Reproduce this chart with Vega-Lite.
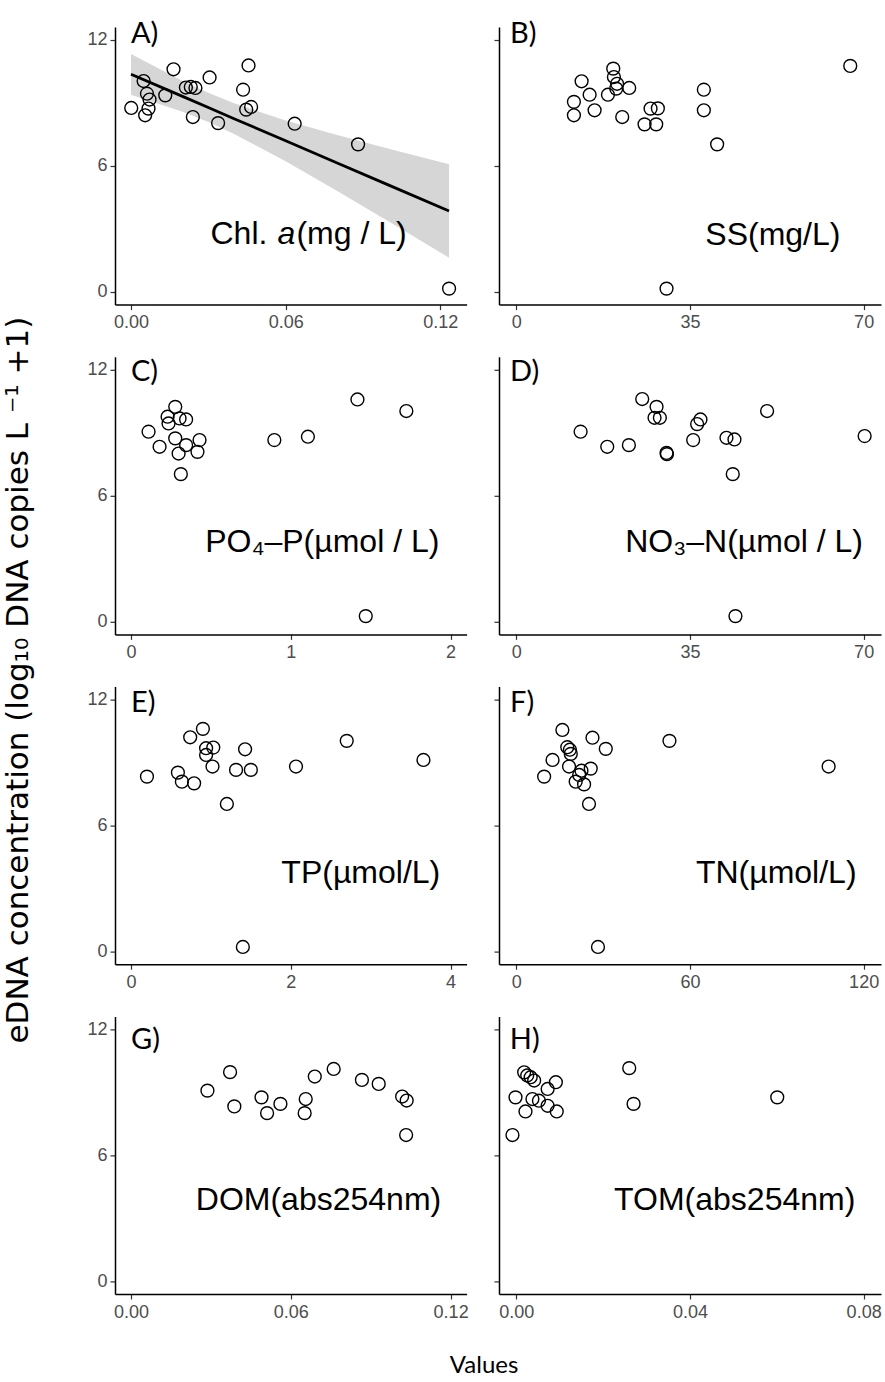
{
  "$schema": "https://vega.github.io/schema/vega-lite/v6.json",
  "background": "white",
  "padding": {"left": 2, "top": 20, "right": 0, "bottom": 0},
  "config": {
    "view": {"stroke": null},
    "font": "Liberation Sans",
    "axis": {"grid": false, "domainColor": "#000000", "domainWidth": 1.5, "tickColor": "#333333", "tickWidth": 1.2, "tickSize": 5, "labelFont": "Liberation Sans", "labelFontSize": 18, "labelColor": "#4D4D4D", "labelPadding": 3, "labelFlush": false, "labelOverlap": false},
    "axisX": {"labelPadding": 4}
  },
  "datasets": {
    "A": [{"x":0.0001,"y":8.75},{"x":0.0049,"y":10.03},{"x":0.0062,"y":9.43},{"x":0.0072,"y":9.15},{"x":0.0068,"y":8.72},{"x":0.0055,"y":8.40},{"x":0.0133,"y":9.35},{"x":0.0165,"y":10.59},{"x":0.0213,"y":9.72},{"x":0.0232,"y":9.75},{"x":0.025,"y":9.70},{"x":0.024,"y":8.32},{"x":0.0305,"y":10.2},{"x":0.0338,"y":8.03},{"x":0.0435,"y":9.62},{"x":0.0456,"y":10.77},{"x":0.0447,"y":8.67},{"x":0.0466,"y":8.8},{"x":0.0635,"y":8.0},{"x":0.0881,"y":7.02},{"x":0.1234,"y":0.16}],
    "fitA": [{"x":0,"fit":10.35,"lo":9.38,"hi":11.32},{"x":0.02,"fit":9.30,"lo":8.57,"hi":10.03},{"x":0.03,"fit":8.77,"lo":8.08,"hi":9.47},{"x":0.04,"fit":8.24,"lo":7.51,"hi":8.97},{"x":0.06,"fit":7.19,"lo":6.22,"hi":8.16},{"x":0.08,"fit":6.13,"lo":4.80,"hi":7.46},{"x":0.1,"fit":5.08,"lo":3.35,"hi":6.81},{"x":0.1234,"fit":3.85,"lo":1.63,"hi":6.07}],
    "B": [{"x":11.6,"y":9.04},{"x":11.6,"y":8.4},{"x":13.15,"y":10.02},{"x":14.77,"y":9.38},{"x":15.77,"y":8.64},{"x":18.46,"y":9.38},{"x":19.53,"y":10.62},{"x":19.66,"y":10.22},{"x":20.3,"y":9.9},{"x":20.13,"y":9.67},{"x":21.34,"y":8.32},{"x":22.75,"y":9.7},{"x":25.84,"y":7.97},{"x":27.05,"y":8.72},{"x":28.19,"y":7.97},{"x":28.52,"y":8.73},{"x":30.27,"y":0.16},{"x":37.79,"y":9.62},{"x":37.79,"y":8.64},{"x":40.47,"y":7.02},{"x":67.3,"y":10.75}],
    "C": [{"x":0.11,"y":9.04},{"x":0.179,"y":8.32},{"x":0.229,"y":9.75},{"x":0.235,"y":9.43},{"x":0.277,"y":10.22},{"x":0.277,"y":8.72},{"x":0.298,"y":8.0},{"x":0.312,"y":7.02},{"x":0.304,"y":9.67},{"x":0.345,"y":9.62},{"x":0.345,"y":8.4},{"x":0.429,"y":8.64},{"x":0.416,"y":8.08},{"x":0.897,"y":8.64},{"x":1.107,"y":8.8},{"x":1.417,"y":10.57},{"x":1.469,"y":0.27},{"x":1.723,"y":10.02}],
    "D": [{"x":12.95,"y":9.04},{"x":18.32,"y":8.32},{"x":22.68,"y":8.4},{"x":25.37,"y":10.59},{"x":28.26,"y":10.22},{"x":27.85,"y":9.7},{"x":28.93,"y":9.7},{"x":30.27,"y":8.03},{"x":30.35,"y":7.97},{"x":35.64,"y":8.64},{"x":36.44,"y":9.4},{"x":37.11,"y":9.62},{"x":42.35,"y":8.75},{"x":43.96,"y":8.67},{"x":43.62,"y":7.02},{"x":44.16,"y":0.27},{"x":50.54,"y":10.02},{"x":70.2,"y":8.83}],
    "E": [{"x":0.2,"y":8.32},{"x":0.587,"y":8.51},{"x":0.637,"y":8.08},{"x":0.79,"y":8.0},{"x":0.741,"y":10.19},{"x":0.9,"y":10.59},{"x":0.94,"y":9.67},{"x":0.94,"y":9.35},{"x":1.03,"y":9.7},{"x":1.02,"y":8.8},{"x":1.2,"y":7.02},{"x":1.315,"y":8.64},{"x":1.428,"y":9.62},{"x":1.5,"y":8.64},{"x":1.4,"y":0.22},{"x":2.065,"y":8.8},{"x":2.7,"y":10.02},{"x":3.66,"y":9.11}],
    "F": [{"x":9.6,"y":8.32},{"x":12.5,"y":9.11},{"x":15.9,"y":10.54},{"x":17.6,"y":9.72},{"x":18.5,"y":9.6},{"x":18.8,"y":9.4},{"x":18.2,"y":8.8},{"x":20.5,"y":8.08},{"x":21.7,"y":8.4},{"x":22.5,"y":8.6},{"x":23.4,"y":7.95},{"x":25.7,"y":8.7},{"x":26.3,"y":10.17},{"x":25.1,"y":7.02},{"x":30.9,"y":9.64},{"x":28.2,"y":0.22},{"x":52.9,"y":10.02},{"x":107.9,"y":8.8}],
    "G": [{"x":0.0287,"y":9.07},{"x":0.0372,"y":9.95},{"x":0.0388,"y":8.32},{"x":0.049,"y":8.75},{"x":0.0511,"y":8.0},{"x":0.0561,"y":8.44},{"x":0.0656,"y":8.67},{"x":0.0652,"y":8.0},{"x":0.069,"y":9.74},{"x":0.0761,"y":10.1},{"x":0.0867,"y":9.58},{"x":0.093,"y":9.39},{"x":0.1018,"y":8.79},{"x":0.1035,"y":8.6},{"x":0.1033,"y":6.96}],
    "H": [{"x":-0.0009,"y":6.96},{"x":-0.0002,"y":8.75},{"x":0.0021,"y":8.08},{"x":0.0018,"y":9.94},{"x":0.0025,"y":9.79},{"x":0.0033,"y":9.71},{"x":0.0041,"y":9.55},{"x":0.0037,"y":8.67},{"x":0.0052,"y":8.59},{"x":0.0072,"y":9.15},{"x":0.0072,"y":8.35},{"x":0.0091,"y":9.47},{"x":0.0093,"y":8.08},{"x":0.026,"y":10.14},{"x":0.027,"y":8.44},{"x":0.0601,"y":8.75}]
  },
  "title": {"text": "eDNA concentration (log₁₀ DNA copies L ⁻¹ +1)", "orient": "left", "anchor": "middle", "font": "DejaVu Sans", "fontSize": 31, "fontWeight": "normal", "color": "black", "offset": 52, "dx": 19},
  "vconcat": [
    {
      "title": {"text": "Values", "orient": "bottom", "anchor": "middle", "font": "Lato", "fontSize": 24, "fontWeight": "normal", "color": "black", "offset": 33},
      "columns": 2,
      "bounds": "flush",
      "spacing": {"row": 51.8, "column": 32},
      "concat": [
        {
          "width": 351.6, "height": 277.6,
          "layer": [
            {"data": {"name": "fitA"}, "mark": {"type": "area", "color": "#D6D6D6"},
             "encoding": {"x": {"field": "x", "type": "quantitative", "title": null, "scale": {"domain": [-0.0062, 0.1302], "nice": false, "zero": false}, "axis": {"values": [0, 0.06, 0.12], "format": ".2f"}},
                          "y": {"field": "lo", "type": "quantitative", "title": null, "scale": {"domain": [-0.6, 12.6], "nice": false, "zero": false}, "axis": {"values": [0, 6, 12]}},
                          "y2": {"field": "hi"}}},
            {"data": {"name": "fitA"}, "mark": {"type": "line", "color": "black", "strokeWidth": 2.8},
             "encoding": {"x": {"field": "x", "type": "quantitative", "title": null}, "y": {"field": "fit", "type": "quantitative", "title": null}}},
            {"data": {"name": "A"}, "mark": {"type": "point", "shape": "circle", "filled": false, "stroke": "black", "strokeWidth": 1.4, "size": 165, "opacity": 1},
             "encoding": {"x": {"field": "x", "type": "quantitative", "title": null}, "y": {"field": "y", "type": "quantitative", "title": null}}},
            {"data": {"values": [{}]}, "mark": {"type": "text", "text": "A)", "font": "Lato", "fontSize": 29, "align": "left", "baseline": "alphabetic", "color": "black"},
             "encoding": {"x": {"datum": 0}, "y": {"datum": 11.83}}},
            {"data": {"values": [{}]}, "mark": {"type": "text", "text": "Chl.", "font": "Liberation Sans", "fontSize": 32, "align": "right", "baseline": "middle", "color": "black", "dx": -10},
             "encoding": {"x": {"datum": 0.0568}, "y": {"datum": 2.78}}},
            {"data": {"values": [{}]}, "mark": {"type": "text", "text": "a", "font": "Liberation Sans", "fontSize": 32, "fontStyle": "italic", "align": "left", "baseline": "middle", "color": "black"},
             "encoding": {"x": {"datum": 0.0568}, "y": {"datum": 2.78}}},
            {"data": {"values": [{}]}, "mark": {"type": "text", "text": "(mg / L)", "font": "Liberation Sans", "fontSize": 32, "align": "left", "baseline": "middle", "color": "black", "dx": 19},
             "encoding": {"x": {"datum": 0.0568}, "y": {"datum": 2.78}}}
          ]
        },
        {
          "width": 382, "height": 277.6,
          "layer": [
            {"data": {"name": "B"}, "mark": {"type": "point", "shape": "circle", "filled": false, "stroke": "black", "strokeWidth": 1.4, "size": 165, "opacity": 1},
             "encoding": {"x": {"field": "x", "type": "quantitative", "title": null, "scale": {"domain": [-3.5, 73.5], "nice": false, "zero": false}, "axis": {"values": [0, 35, 70], "format": "d"}},
                          "y": {"field": "y", "type": "quantitative", "title": null, "scale": {"domain": [-0.6, 12.6], "nice": false, "zero": false}, "axis": {"values": [0, 6, 12], "labels": false}}}},
            {"data": {"values": [{}]}, "mark": {"type": "text", "text": "B)", "font": "Lato", "fontSize": 29, "align": "left", "baseline": "alphabetic", "color": "black"},
             "encoding": {"x": {"datum": -1.29}, "y": {"datum": 11.83}}},
            {"data": {"values": [{}]}, "mark": {"type": "text", "text": "SS(mg/L)", "font": "Liberation Sans", "fontSize": 32, "align": "center", "baseline": "middle", "color": "black"},
             "encoding": {"x": {"datum": 51.7}, "y": {"datum": 2.69}}}
          ]
        },
        {
          "width": 351.6, "height": 277.6,
          "layer": [
            {"data": {"name": "C"}, "mark": {"type": "point", "shape": "circle", "filled": false, "stroke": "black", "strokeWidth": 1.4, "size": 165, "opacity": 1},
             "encoding": {"x": {"field": "x", "type": "quantitative", "title": null, "scale": {"domain": [-0.1, 2.1], "nice": false, "zero": false}, "axis": {"values": [0, 1, 2], "format": "d"}},
                          "y": {"field": "y", "type": "quantitative", "title": null, "scale": {"domain": [-0.6, 12.6], "nice": false, "zero": false}, "axis": {"values": [0, 6, 12]}}}},
            {"data": {"values": [{}]}, "mark": {"type": "text", "text": "C)", "font": "Lato", "fontSize": 29, "align": "left", "baseline": "alphabetic", "color": "black"},
             "encoding": {"x": {"datum": 0}, "y": {"datum": 11.45}}},
            {"data": {"values": [{}]}, "mark": {"type": "text", "text": "PO₄–P(µmol / L)", "font": "Liberation Sans", "fontSize": 32, "align": "center", "baseline": "middle", "color": "black"},
             "encoding": {"x": {"datum": 1.197}, "y": {"datum": 3.8}}}
          ]
        },
        {
          "width": 382, "height": 277.6,
          "layer": [
            {"data": {"name": "D"}, "mark": {"type": "point", "shape": "circle", "filled": false, "stroke": "black", "strokeWidth": 1.4, "size": 165, "opacity": 1},
             "encoding": {"x": {"field": "x", "type": "quantitative", "title": null, "scale": {"domain": [-3.5, 73.5], "nice": false, "zero": false}, "axis": {"values": [0, 35, 70], "format": "d"}},
                          "y": {"field": "y", "type": "quantitative", "title": null, "scale": {"domain": [-0.6, 12.6], "nice": false, "zero": false}, "axis": {"values": [0, 6, 12], "labels": false}}}},
            {"data": {"values": [{}]}, "mark": {"type": "text", "text": "D)", "font": "Lato", "fontSize": 29, "align": "left", "baseline": "alphabetic", "color": "black"},
             "encoding": {"x": {"datum": -1.29}, "y": {"datum": 11.45}}},
            {"data": {"values": [{}]}, "mark": {"type": "text", "text": "NO₃–N(µmol / L)", "font": "Liberation Sans", "fontSize": 32, "align": "center", "baseline": "middle", "color": "black"},
             "encoding": {"x": {"datum": 45.9}, "y": {"datum": 3.8}}}
          ]
        },
        {
          "width": 351.6, "height": 277.6,
          "layer": [
            {"data": {"name": "E"}, "mark": {"type": "point", "shape": "circle", "filled": false, "stroke": "black", "strokeWidth": 1.4, "size": 165, "opacity": 1},
             "encoding": {"x": {"field": "x", "type": "quantitative", "title": null, "scale": {"domain": [-0.2, 4.2], "nice": false, "zero": false}, "axis": {"values": [0, 2, 4], "format": "d"}},
                          "y": {"field": "y", "type": "quantitative", "title": null, "scale": {"domain": [-0.6, 12.6], "nice": false, "zero": false}, "axis": {"values": [0, 6, 12]}}}},
            {"data": {"values": [{}]}, "mark": {"type": "text", "text": "E)", "font": "Lato", "fontSize": 29, "align": "left", "baseline": "alphabetic", "color": "black"},
             "encoding": {"x": {"datum": 0}, "y": {"datum": 11.4}}},
            {"data": {"values": [{}]}, "mark": {"type": "text", "text": "TP(µmol/L)", "font": "Liberation Sans", "fontSize": 32, "align": "center", "baseline": "middle", "color": "black"},
             "encoding": {"x": {"datum": 2.876}, "y": {"datum": 3.74}}}
          ]
        },
        {
          "width": 382, "height": 277.6,
          "layer": [
            {"data": {"name": "F"}, "mark": {"type": "point", "shape": "circle", "filled": false, "stroke": "black", "strokeWidth": 1.4, "size": 165, "opacity": 1},
             "encoding": {"x": {"field": "x", "type": "quantitative", "title": null, "scale": {"domain": [-6, 126], "nice": false, "zero": false}, "axis": {"values": [0, 60, 120], "format": "d"}},
                          "y": {"field": "y", "type": "quantitative", "title": null, "scale": {"domain": [-0.6, 12.6], "nice": false, "zero": false}, "axis": {"values": [0, 6, 12], "labels": false}}}},
            {"data": {"values": [{}]}, "mark": {"type": "text", "text": "F)", "font": "Lato", "fontSize": 29, "align": "left", "baseline": "alphabetic", "color": "black"},
             "encoding": {"x": {"datum": -2.2}, "y": {"datum": 11.4}}},
            {"data": {"values": [{}]}, "mark": {"type": "text", "text": "TN(µmol/L)", "font": "Liberation Sans", "fontSize": 32, "align": "center", "baseline": "middle", "color": "black"},
             "encoding": {"x": {"datum": 89.8}, "y": {"datum": 3.74}}}
          ]
        },
        {
          "width": 351.6, "height": 277.6,
          "layer": [
            {"data": {"name": "G"}, "mark": {"type": "point", "shape": "circle", "filled": false, "stroke": "black", "strokeWidth": 1.4, "size": 165, "opacity": 1},
             "encoding": {"x": {"field": "x", "type": "quantitative", "title": null, "scale": {"domain": [-0.006, 0.126], "nice": false, "zero": false}, "axis": {"values": [0, 0.06, 0.12], "format": ".2f"}},
                          "y": {"field": "y", "type": "quantitative", "title": null, "scale": {"domain": [-0.6, 12.6], "nice": false, "zero": false}, "axis": {"values": [0, 6, 12]}}}},
            {"data": {"values": [{}]}, "mark": {"type": "text", "text": "G)", "font": "Lato", "fontSize": 29, "align": "left", "baseline": "alphabetic", "color": "black"},
             "encoding": {"x": {"datum": 0}, "y": {"datum": 11.05}}},
            {"data": {"values": [{}]}, "mark": {"type": "text", "text": "DOM(abs254nm)", "font": "Liberation Sans", "fontSize": 32, "align": "center", "baseline": "middle", "color": "black"},
             "encoding": {"x": {"datum": 0.0704}, "y": {"datum": 3.87}}}
          ]
        },
        {
          "width": 382, "height": 277.6,
          "layer": [
            {"data": {"name": "H"}, "mark": {"type": "point", "shape": "circle", "filled": false, "stroke": "black", "strokeWidth": 1.4, "size": 165, "opacity": 1},
             "encoding": {"x": {"field": "x", "type": "quantitative", "title": null, "scale": {"domain": [-0.004, 0.084], "nice": false, "zero": false}, "axis": {"values": [0, 0.04, 0.08], "format": ".2f"}},
                          "y": {"field": "y", "type": "quantitative", "title": null, "scale": {"domain": [-0.6, 12.6], "nice": false, "zero": false}, "axis": {"values": [0, 6, 12], "labels": false}}}},
            {"data": {"values": [{}]}, "mark": {"type": "text", "text": "H)", "font": "Lato", "fontSize": 29, "align": "left", "baseline": "alphabetic", "color": "black"},
             "encoding": {"x": {"datum": -0.0015}, "y": {"datum": 11.05}}},
            {"data": {"values": [{}]}, "mark": {"type": "text", "text": "TOM(abs254nm)", "font": "Liberation Sans", "fontSize": 32, "align": "center", "baseline": "middle", "color": "black"},
             "encoding": {"x": {"datum": 0.0503}, "y": {"datum": 3.87}}}
          ]
        }
      ]
    }
  ]
}
